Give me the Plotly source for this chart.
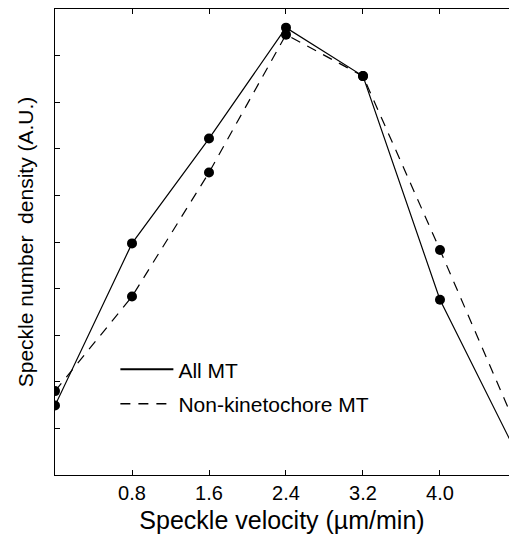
import plotly.graph_objects as go

velocity = [0.0, 0.8, 1.6, 2.4, 3.2, 4.0, 4.8]
all_mt = [1.49, 4.97, 7.22, 9.60, 8.56, 3.76, 0.45]
non_kt_mt = [1.80, 3.83, 6.49, 9.45, 8.56, 4.83, 1.00]
x_ticks = [0.8, 1.6, 2.4, 3.2, 4.0]
x_tick_labels = ["0.8", "1.6", "2.4", "3.2", "4.0"]
y_ticks = [1, 2, 3, 4, 5, 6, 7, 8, 9]

FONT = "Liberation Sans, Arial, Helvetica, sans-serif"

fig = go.Figure()
fig.add_trace(go.Scatter(x=velocity, y=all_mt, mode="lines+markers",
                         line=dict(color="black", width=1.2),
                         marker=dict(color="black", size=10),
                         showlegend=False))
fig.add_trace(go.Scatter(x=velocity, y=non_kt_mt, mode="lines+markers",
                         line=dict(color="black", width=1.2, dash="10px,8px"),
                         marker=dict(color="black", size=10),
                         showlegend=False))
# legend entries (lines only)
fig.add_trace(go.Scatter(x=[None], y=[None], mode="lines", name="All MT",
                         line=dict(color="black", width=2), legendgroup="a"))
fig.add_trace(go.Scatter(x=[None], y=[None], mode="lines", name="Non-kinetochore MT",
                         line=dict(color="black", width=1.5, dash="10px,8px"), legendgroup="b"))

fig.update_layout(
    width=509, height=535,
    margin=dict(l=55, r=0, t=9, b=60),
    paper_bgcolor="white", plot_bgcolor="white",
    font=dict(family=FONT, color="black", size=20),
    showlegend=True,
    legend=dict(x=0.133, y=0.27, xanchor="left", yanchor="top",
                bgcolor="rgba(0,0,0,0)", font=dict(size=21),
                tracegroupgap=4, itemwidth=53),
)
fig.update_xaxes(range=[0, 4.717], tickvals=x_ticks, ticktext=x_tick_labels,
                 ticks="inside", ticklen=5, tickcolor="black", showline=True,
                 linecolor="black", linewidth=1, mirror="ticks", showgrid=False,
                 zeroline=False, tickfont=dict(size=20),
                 title=dict(text="Speckle velocity (µm/min)", font=dict(size=25), standoff=8))
fig.update_yaxes(range=[0, 10], tickvals=y_ticks, showticklabels=False,
                 ticks="inside", ticklen=5, tickcolor="black", showline=True,
                 linecolor="black", linewidth=1, showgrid=False, zeroline=False,
                 title=dict(text="Speckle number  density (A.U.)", font=dict(size=21), standoff=14))

fig.write_html("out.html", config={"displayModeBar": False},
               post_script="document.body.style.margin='0';document.body.style.padding='0';")
